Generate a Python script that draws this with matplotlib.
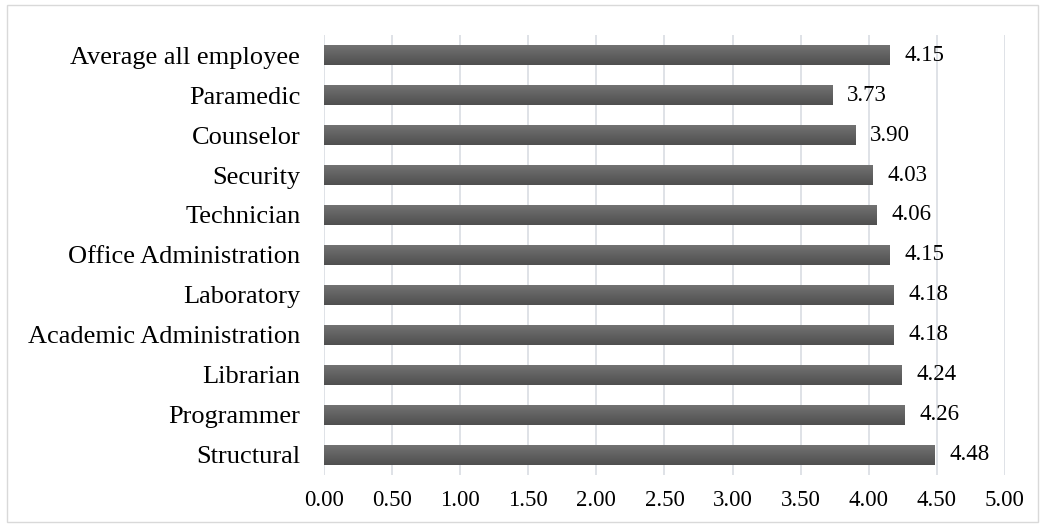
import numpy as np
import matplotlib.pyplot as plt
from matplotlib.colors import LinearSegmentedColormap
from matplotlib.patches import Rectangle

plt.rcParams['font.family'] = ['Liberation Serif', 'DejaVu Serif']

categories = ['Structural', 'Programmer', 'Librarian', 'Academic Administration',
              'Laboratory', 'Office Administration', 'Technician', 'Security',
              'Counselor', 'Paramedic', 'Average all employee']
scores = [4.48, 4.26, 4.24, 4.18, 4.18, 4.15, 4.06, 4.03, 3.90, 3.73, 4.15]
xticks = [0.0, 0.5, 1.0, 1.5, 2.0, 2.5, 3.0, 3.5, 4.0, 4.5, 5.0]

fig = plt.figure(figsize=(10.45, 5.28), dpi=100)
fig.patches.append(Rectangle((7 / 1045, 6 / 528), 1031 / 1045, 517 / 528,
                             transform=fig.transFigure, fill=False,
                             edgecolor='#d9d9d9', linewidth=1.0))
ax = fig.add_axes([0.310, 0.1004, 0.6517, 0.8333])

y = np.arange(len(categories))
bars = ax.barh(y, scores, height=0.52, color='#606060', zorder=2)

# vertical shading inside each bar (lighter at top, darker at bottom)
shade = LinearSegmentedColormap.from_list('shade', ['#4f4f4f', '#747474'])
grad = np.linspace(0, 1, 64).reshape(-1, 1)
for b in bars:
    x0, y0 = b.get_x(), b.get_y()
    w, h = b.get_width(), b.get_height()
    im = ax.imshow(grad, cmap=shade, aspect='auto',
                   extent=(x0, x0 + w, y0 + h, y0), origin='upper', zorder=3)
    im.set_clip_path(b)

for yi, v in zip(y, scores):
    ax.text(v + 0.11, yi, f'{v:.2f}', va='center', ha='left', fontsize=16.5)

ax.set_xlim(0, 5)
ax.set_ylim(-0.5, len(categories) - 0.5)
ax.set_xticks(xticks)
ax.set_xticklabels([f'{t:.2f}' for t in xticks], fontsize=16.5)
ax.set_yticks(y)
ax.set_yticklabels(categories, fontsize=19)
ax.tick_params(axis='y', length=0, pad=17)
ax.tick_params(axis='x', length=0, pad=11)
ax.grid(axis='x', color='#d9dde3', linewidth=1.2, zorder=0)
ax.set_axisbelow(True)
for s in ax.spines.values():
    s.set_visible(False)

fig.savefig('out.png', dpi=100)
